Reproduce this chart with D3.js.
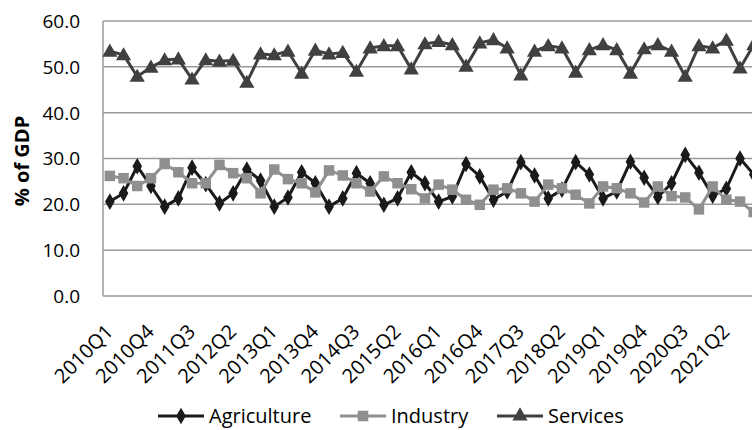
<!DOCTYPE html>
<html><head><meta charset="utf-8">
<script src="https://cdn.jsdelivr.net/npm/d3@7"></script>
<style>body{margin:0;background:#fff}svg{display:block}</style>
</head><body>
<svg id="c" width="752" height="430"></svg>
<script>
const quarters = [];
for (let y = 2010; y <= 2021; y++) for (let q = 1; q <= 4; q++) quarters.push(y + "Q" + q);
const agriculture = [20.6,22.4,28.3,24.0,19.5,21.3,28.0,24.4,20.2,22.4,27.6,25.2,19.5,21.5,27.0,24.6,19.5,21.3,26.8,24.6,19.9,21.3,27.0,24.6,20.6,21.7,28.8,26.1,21.0,22.8,29.2,26.3,21.3,23.2,29.2,26.5,21.3,22.8,29.3,25.8,21.6,24.6,30.8,26.9,21.9,23.4,30.0,26.5];
const industry = [26.2,25.7,24.0,25.7,28.8,27.0,24.6,24.6,28.6,26.8,25.7,22.4,27.6,25.5,24.6,22.6,27.4,26.3,24.6,22.8,26.1,24.6,23.3,21.3,24.3,23.2,21.0,19.9,23.2,23.5,22.4,20.6,24.3,23.5,22.1,20.2,23.9,23.5,22.4,20.4,23.9,21.8,21.5,18.9,23.9,21.0,20.6,18.3];
const services = [53.4,52.6,47.9,49.9,51.5,51.7,47.3,51.5,51.2,51.4,46.6,52.8,52.6,53.4,48.6,53.6,52.8,53.1,49.0,54.1,54.6,54.6,49.5,55.0,55.5,54.8,50.1,55.2,55.9,54.1,48.2,53.4,54.6,54.1,48.8,53.7,54.8,53.7,48.6,53.9,54.8,53.4,47.9,54.6,54.1,55.8,49.7,54.8];
const yTicks = [0,10,20,30,40,50,60];
const seriesNames = ["Agriculture","Industry","Services"];

const svg = d3.select("#c");
const L = 103, T = 21, B = 296, step = 13.7;
const x = d3.scaleBand().domain(quarters).range([L, L + step * quarters.length]);
const y = d3.scaleLinear().domain([0, 60]).range([B, T]);
const font = "'Open Sans', 'Noto Sans', sans-serif";

// gridlines
svg.append("g").selectAll("line").data(yTicks).join("line")
  .attr("x1", L).attr("x2", x.range()[1])
  .attr("y1", d => y(d)).attr("y2", d => y(d))
  .attr("stroke", "#9a9a9a").attr("stroke-width", 1.5);
svg.append("line").attr("x1", L).attr("x2", L).attr("y1", T).attr("y2", B)
  .attr("stroke", "#9a9a9a").attr("stroke-width", 1.5);

// y labels
svg.append("g").selectAll("text").data(yTicks).join("text")
  .attr("x", 80).attr("y", d => y(d)).attr("dy", "0.36em")
  .attr("text-anchor", "end").attr("font-family", font).attr("font-size", 19)
  .attr("fill", "#000").text(d => d.toFixed(1));

svg.append("text").attr("transform", "translate(29,161) rotate(-90)")
  .attr("text-anchor", "middle").attr("font-family", font).attr("font-size", 20)
  .attr("font-weight", "bold").text("% of GDP");

// x labels
svg.append("g").selectAll("text").data(quarters.filter((d, i) => i % 3 === 0)).join("text")
  .attr("transform", d => `translate(${x(d) + x.bandwidth() / 2 - 0.5},${B + 32}) rotate(-45)`)
  .attr("text-anchor", "end").attr("dy", "0.35em").attr("font-family", font).attr("font-size", 20)
  .text(d => d);

const defs = [
  {name: "Agriculture", data: agriculture, color: "#1a1a1a", sym: d3.symbolDiamond, size: 80},
  {name: "Industry", data: industry, color: "#8f8f8f", sym: d3.symbolSquare, size: 110},
  {name: "Services", data: services, color: "#404040", sym: d3.symbolTriangle, size: 100}
];
const cx = (i) => x(quarters[i]) + x.bandwidth() / 2;
const line = d3.line().x((d, i) => cx(i)).y(d => y(d));
defs.forEach(s => {
  const g = svg.append("g");
  g.append("path").datum(s.data).attr("d", line).attr("fill", "none")
    .attr("stroke", s.color).attr("stroke-width", 3).attr("stroke-linejoin", "round");
  g.selectAll("path.m").data(s.data).join("path").attr("class", "m")
    .attr("transform", (d, i) => `translate(${cx(i)},${y(d) + (s.sym === d3.symbolTriangle ? 1 : 0)})`)
    .attr("d", d3.symbol().type(s.sym).size(s.size)).attr("fill", s.color);
});

// legend
const lx = [158, 340, 497];
defs.forEach((s, i) => {
  const g = svg.append("g").attr("transform", `translate(${lx[i]},416)`);
  g.append("line").attr("x1", 0).attr("x2", 46).attr("stroke", s.color).attr("stroke-width", 3);
  g.append("path").attr("transform", "translate(23,0)").attr("d", d3.symbol().type(s.sym).size(s.size)).attr("fill", s.color);
  g.append("text").attr("x", 51).attr("dy", "0.35em").attr("font-family", font).attr("font-size", 20).text(s.name);
});
</script>
</body></html>
